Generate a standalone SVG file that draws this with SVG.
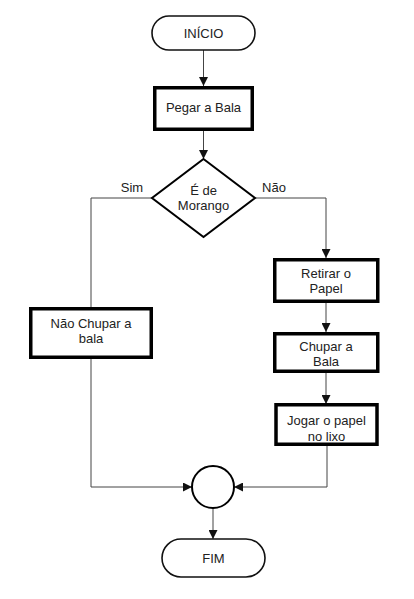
<svg xmlns="http://www.w3.org/2000/svg" width="414" height="599" viewBox="0 0 414 599">
<defs>
<marker id="ah" viewBox="0 0 10 10" refX="10" refY="5" markerWidth="9" markerHeight="9" markerUnits="userSpaceOnUse" orient="auto">
<path d="M0,0 L10,5 L0,10 z" fill="#111"/>
</marker>
<style>
.t{font-family:"Liberation Sans",Arial,sans-serif;font-size:13px;fill:#222;text-anchor:middle}
.box{fill:#fff;stroke:#000;stroke-width:3.5}
.term{fill:#fff;stroke:#111;stroke-width:1.6}
.c{fill:none;stroke:#444;stroke-width:1}
</style>
</defs>
<rect width="414" height="599" fill="#fff"/>
<g id="connectors">
<path class="c" d="M203.5,50 V86" marker-end="url(#ah)"/>
<path class="c" d="M203.5,131 V159" marker-end="url(#ah)"/>
<path class="c" d="M152,198 H91 V307"/>
<path class="c" d="M255,198 H326 V258" marker-end="url(#ah)"/>
<path class="c" d="M326,303 V332" marker-end="url(#ah)"/>
<path class="c" d="M326,373 V404" marker-end="url(#ah)"/>
<path class="c" d="M91,359 V487 H192" marker-end="url(#ah)"/>
<path class="c" d="M327,446 V487 H234" marker-end="url(#ah)"/>
<path class="c" d="M213,508 V539" marker-end="url(#ah)"/>
</g>
<g id="inicio">
<rect class="term" x="152" y="16" width="103" height="34" rx="17"/>
<text class="t" x="203.5" y="38">INÍCIO</text>
</g>
<g id="pegar">
<rect class="box" x="154.75" y="87.75" width="97.5" height="41.5"/>
<text class="t" x="203.5" y="112">Pegar a Bala</text>
</g>
<g id="decisao">
<path d="M203.5,159 L255,198 L203.5,237 L152,198 Z" fill="#fff" stroke="#000" stroke-width="2"/>
<text class="t" x="203.5" y="195">É de</text>
<text class="t" x="203.5" y="210">Morango</text>
</g>
<text class="t" x="132" y="192">Sim</text>
<text class="t" x="274" y="192">Não</text>
<g id="nao-chupar">
<rect class="box" x="30.75" y="308.75" width="120.5" height="48.5"/>
<text class="t" x="91" y="328">Não Chupar a</text>
<text class="t" x="91" y="343">bala</text>
</g>
<g id="retirar">
<rect class="box" x="274.75" y="259.75" width="103" height="41.5"/>
<text class="t" x="326" y="278">Retirar o</text>
<text class="t" x="326" y="293">Papel</text>
</g>
<g id="chupar">
<rect class="box" x="274.75" y="333.75" width="103" height="37.5"/>
<text class="t" x="326" y="351">Chupar a</text>
<text class="t" x="326" y="366">Bala</text>
</g>
<g id="jogar">
<rect class="box" x="276" y="404.75" width="101" height="39.5"/>
<text class="t" x="326.5" y="425">Jogar o papel</text>
<text class="t" x="326.5" y="441">no lixo</text>
</g>
<g id="juncao">
<circle cx="213" cy="487" r="21" fill="#fff" stroke="#000" stroke-width="2"/>
</g>
<g id="fim">
<rect class="term" x="162" y="539" width="103" height="38" rx="19"/>
<text class="t" x="213.5" y="563">FIM</text>
</g>
</svg>
